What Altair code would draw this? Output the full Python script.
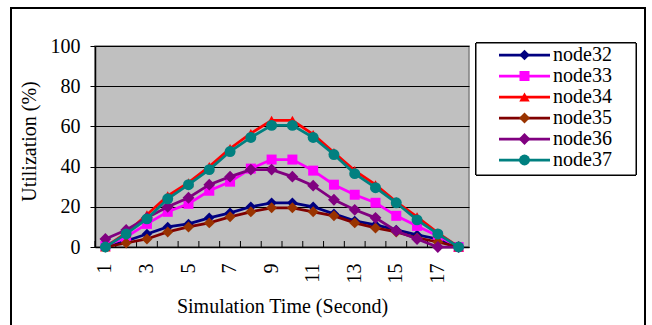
import altair as alt
import pandas as pd

# ---- data ----
times = list(range(1, 19))
series_names = ["node32", "node33", "node34", "node35", "node36", "node37"]
node32 = [0, 3, 6.5, 10, 11.5, 14.5, 17, 20, 22, 22, 20, 16.5, 13, 11, 8.5, 6, 4, 0]
node33 = [0.5, 5, 11.5, 17.5, 21.5, 28, 32.5, 39, 43.5, 43.5, 38, 31, 26, 22, 15.5, 10.5, 5.5, 0]
node34 = [0, 7, 16, 25.5, 32, 40, 49, 56.5, 63, 63, 56, 47, 38, 31, 22.5, 15, 7, 0]
node35 = [0, 2, 4, 7.5, 10, 12, 15, 17.5, 19.5, 19.5, 17.5, 15.5, 12, 9.5, 7.5, 4.5, 2.5, 0]
node36 = [4, 8.5, 14.5, 20, 24.5, 31, 35, 38.5, 38.5, 35, 30.5, 23.5, 18.5, 14.5, 8, 4, 0, 0]
node37 = [0, 6.5, 14, 24, 31, 38.5, 47.5, 54.5, 60.5, 60.5, 54.5, 46, 36.5, 29.5, 22, 13.5, 6.5, 0]
x_tick_labels = [1, 3, 5, 7, 9, 11, 13, 15, 17]
y_tick_values = [0, 20, 40, 60, 80, 100]

values = [node32, node33, node34, node35, node36, node37]

# ---- styles ----
styles = {
    "node32": dict(line="#000080", marker="#000080", shape="diamond", size=110),
    "node33": dict(line="#FF00FF", marker="#FF00FF", shape="square", size=100),
    "node34": dict(line="#FF0000", marker="#FF0000", shape="triangle-up", size=110),
    "node35": dict(line="#800000", marker="#993300", shape="diamond", size=120),
    "node36": dict(line="#800080", marker="#800080", shape="diamond", size=140),
    "node37": dict(line="#008080", marker="#008080", shape="circle", size=120),
}

FONT = "Liberation Serif"
W, H = 374, 201

rows = []
for name, vals in zip(series_names, values):
    for t, v in zip(times, vals):
        rows.append({"series": name, "t": t, "value": v})
df = pd.DataFrame(rows)
df_t = pd.DataFrame({"t": times})
legend_df = pd.DataFrame({"series": series_names})

x_axis = alt.Axis(
    values=x_tick_labels, labelAngle=270, labelAlign="right", labelBaseline="middle",
    ticks=True, tickSize=0, labelPadding=16, domainColor="black", domainWidth=1.5, grid=False,
    labelFontSize=20, labelColor="black", labelFont=FONT,
    title="Simulation Time (Second)", titleFontSize=20, titleFont=FONT,
    titleFontWeight="normal", titleColor="black", titleY=65, titleBaseline="alphabetic",
)
x_scale = alt.Scale(paddingInner=0, paddingOuter=0)

def X(band=None):
    if band is None:
        return alt.X("t:O", scale=x_scale, axis=x_axis)
    return alt.X("t:O", scale=x_scale, axis=x_axis, bandPosition=band)

Y = alt.Y(
    "value:Q",
    scale=alt.Scale(domain=[0, 100], nice=False),
    axis=alt.Axis(
        values=y_tick_values, tickSize=5, tickColor="black", domainColor="black",
        domainWidth=1.5, gridColor="black", gridWidth=1, labelFontSize=20,
        labelColor="black", labelFont=FONT, labelPadding=10,
        title="Utilization (%)", titleFontSize=20, titleFont=FONT,
        titleFontWeight="normal", titleColor="black", titleX=-66, titleY=95,
        titleBaseline="middle",
    ),
)

plot_layers = []
# inside ticks on the category axis
plot_layers.append(
    alt.Chart(df_t).mark_rule(color="black", strokeWidth=1).encode(
        x=X(0), y=alt.value(H - 6), y2=alt.value(H)
    )
)
for name in series_names:
    st = styles[name]
    base = alt.Chart(df).transform_filter(alt.datum.series == name)
    plot_layers.append(
        base.mark_line(color=st["line"], strokeWidth=2.75).encode(x=X(), y=Y)
    )
    plot_layers.append(
        base.mark_point(filled=True, opacity=1, shape=st["shape"], color=st["marker"],
                        size=st["size"]).encode(x=X(), y=Y)
    )
plot = alt.layer(*plot_layers)

LY = alt.Y("series:N", scale=alt.Scale(type="point", domain=series_names,
                                        range=[9, 114], padding=0), axis=None)
legend_layers = [
    # outer frame
    alt.Chart(legend_df).mark_rect(fill=None, stroke="black", strokeWidth=1.5).encode(
        x=alt.value(-84), x2=alt.value(550), y=alt.value(-38), y2=alt.value(300)
    ),
    # legend box
    alt.Chart(legend_df).mark_rect(fill="white", stroke="black", strokeWidth=1).encode(
        x=alt.value(381), x2=alt.value(541), y=alt.value(-3), y2=alt.value(129)
    ),
]
for name in series_names:
    st = styles[name]
    base = alt.Chart(legend_df).transform_filter(alt.datum.series == name)
    legend_layers.append(
        base.mark_rule(color=st["line"], strokeWidth=2.75).encode(
            x=alt.value(404), x2=alt.value(455), y=LY)
    )
    legend_layers.append(
        base.mark_point(filled=True, opacity=1, shape=st["shape"], color=st["marker"],
                        size=st["size"]).encode(x=alt.value(429.5), y=LY)
    )
    legend_layers.append(
        base.mark_text(align="left", baseline="middle", font=FONT, fontSize=20,
                       color="black").encode(x=alt.value(458), y=LY, text="series:N")
    )
legend = alt.layer(*legend_layers)

chart = (
    alt.layer(plot, legend)
    .resolve_scale(y="independent")
    .properties(
        width=W, height=H,
        autosize=alt.AutoSizeParams(type="none"),
        padding={"left": 95, "top": 46, "right": 183, "bottom": 78},
        background="white",
    )
    .configure(font=FONT)
    .configure_text(font=FONT)
    .configure_view(fill="#C0C0C0", stroke="#808080", strokeWidth=1.5)
)

chart.save("out.html", embed_options={"renderer": "svg", "actions": False})
